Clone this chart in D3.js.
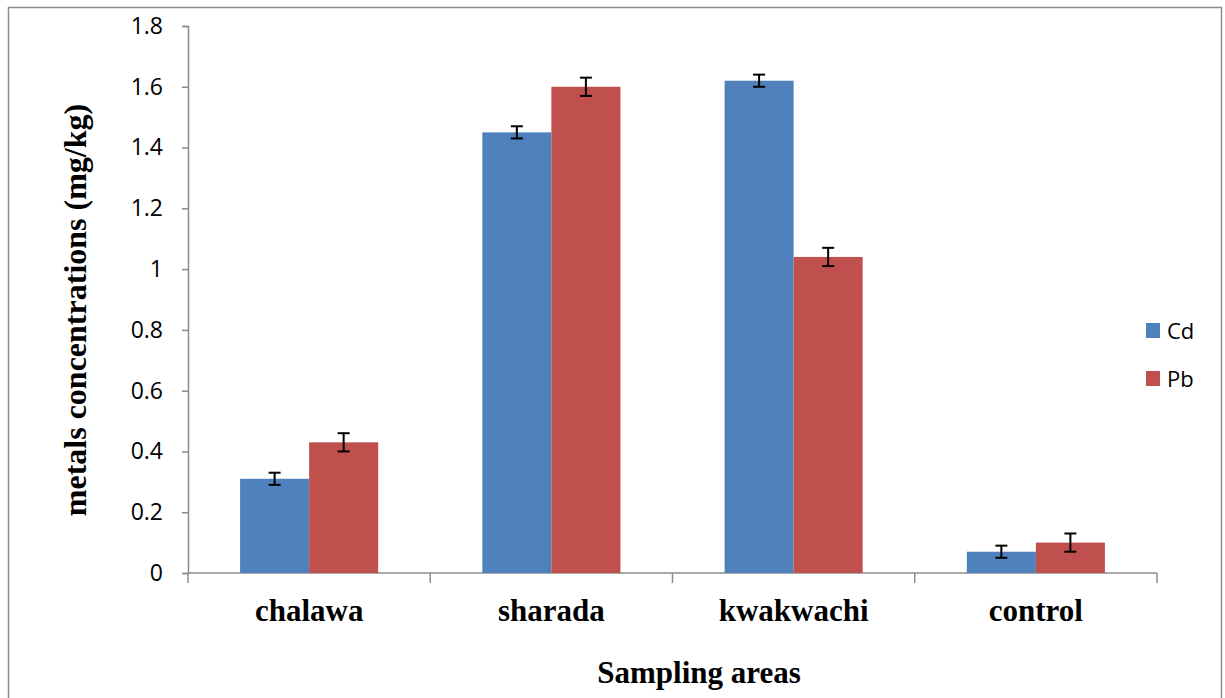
<!DOCTYPE html>
<html>
<head>
<meta charset="utf-8">
<script src="https://cdn.jsdelivr.net/npm/d3@7"></script>
<style>
  body { margin:0; background:#fff; }
  svg { display:block; }
</style>
</head>
<body>
<div id="chart"><svg></svg></div>
<script>
(function(){
    const categories = ['chalawa','sharada','kwakwachi','control'];
    const series = ['Cd','Pb'];
    const cdValues = [0.31, 1.45, 1.62, 0.07];
    const pbValues = [0.43, 1.60, 1.04, 0.10];
    const cdErrors = [0.02, 0.02, 0.02, 0.02];
    const pbErrors = [0.03, 0.03, 0.03, 0.03];
    const yTicks = [0, 0.2, 0.4, 0.6, 0.8, 1, 1.2, 1.4, 1.6, 1.8];
    const colors = {Cd:'#4F81BD', Pb:'#C0504D'};

    const W = 1225, H = 698;
    const margin = {top:26, right:68, bottom:125, left:188};
    const width = W - margin.left - margin.right;
    const height = H - margin.top - margin.bottom;

    const svg = d3.select('#chart svg').attr('width', W).attr('height', H);

    // outer frame
    svg.append('rect').attr('x',8.5).attr('y',7.5).attr('width',1213).attr('height',700)
        .attr('fill','none').attr('stroke','#8c8c8c').attr('stroke-width',1.5);

    const g = svg.append('g').attr('transform',`translate(${margin.left},${margin.top})`);

    const data = categories.map((c,i)=>({
        cat:c,
        vals:[{s:'Cd', v:cdValues[i], e:cdErrors[i]}, {s:'Pb', v:pbValues[i], e:pbErrors[i]}]
    }));

    const x0 = d3.scaleBand().domain(categories).range([0,width]).paddingInner(0.43).paddingOuter(0.215);
    const x1 = d3.scaleBand().domain(series).range([0,x0.bandwidth()]);
    const xTick = d3.scaleBand().domain(categories).range([0,width]);
    const y = d3.scaleLinear().domain([0,1.8]).range([height,0]);

    // axes
    const yAxis = g.append('g')
        .call(d3.axisLeft(y).tickValues(yTicks).tickSize(6).tickPadding(19).tickFormat(d=>d3.format('')(+d.toFixed(1))));
    yAxis.select('.domain').attr('stroke','#8c8c8c').attr('stroke-width',1.5);
    yAxis.selectAll('.tick line').attr('stroke','#8c8c8c').attr('stroke-width',1.5);
    yAxis.selectAll('.tick text').style('font-family','"Open Sans", "Liberation Sans", sans-serif')
        .style('font-size','23px').attr('fill','#000');

    const xg = g.append('g').attr('transform',`translate(0,${height})`);
    xg.append('line').attr('x1',0).attr('x2',width).attr('y1',0).attr('y2',0)
        .attr('stroke','#8c8c8c').attr('stroke-width',1.5);
    xg.selectAll('line.tk').data(d3.range(categories.length+1)).join('line').attr('class','tk')
        .attr('x1',i=>i*xTick.step()).attr('x2',i=>i*xTick.step())
        .attr('y1',0).attr('y2',10).attr('stroke','#8c8c8c').attr('stroke-width',1.5);
    xg.selectAll('text').data(categories).join('text')
        .attr('x',d=>xTick(d)+xTick.bandwidth()/2).attr('y',48)
        .attr('text-anchor','middle')
        .style('font-family','"Liberation Serif", "Times New Roman", serif')
        .style('font-size','31px').style('font-weight','bold')
        .text(d=>d);

    // bars
    const groups = g.selectAll('g.grp').data(data).join('g').attr('class','grp')
        .attr('transform',d=>`translate(${x0(d.cat)},0)`);
    groups.selectAll('rect').data(d=>d.vals).join('rect')
        .attr('x',d=>x1(d.s)).attr('width',x1.bandwidth())
        .attr('y',d=>y(d.v)).attr('height',d=>height-y(d.v))
        .attr('fill',d=>colors[d.s]);

    // error bars
    const eb = groups.selectAll('g.err').data(d=>d.vals).join('g').attr('class','err')
        .attr('stroke','#000').attr('stroke-width',2);
    eb.append('line')
        .attr('x1',d=>x1(d.s)+x1.bandwidth()/2).attr('x2',d=>x1(d.s)+x1.bandwidth()/2)
        .attr('y1',d=>y(d.v+d.e)).attr('y2',d=>y(d.v-d.e));
    eb.append('line')
        .attr('x1',d=>x1(d.s)+x1.bandwidth()/2-6).attr('x2',d=>x1(d.s)+x1.bandwidth()/2+6)
        .attr('y1',d=>y(d.v+d.e)).attr('y2',d=>y(d.v+d.e));
    eb.append('line')
        .attr('x1',d=>x1(d.s)+x1.bandwidth()/2-6).attr('x2',d=>x1(d.s)+x1.bandwidth()/2+6)
        .attr('y1',d=>y(d.v-d.e)).attr('y2',d=>y(d.v-d.e));

    // axis titles
    svg.append('text')
        .attr('x',699).attr('y',683)
        .attr('text-anchor','middle')
        .style('font-family','"Liberation Serif", "Times New Roman", serif')
        .style('font-size','31px').style('font-weight','bold')
        .text('Sampling areas');

    svg.append('text')
        .attr('transform','translate(86,310) rotate(-90)')
        .attr('text-anchor','middle')
        .style('font-family','"Liberation Serif", "Times New Roman", serif')
        .style('font-size','32px').style('font-weight','bold')
        .text('metals concentrations (mg/kg)');

    // legend
    const legend = svg.append('g').attr('transform','translate(1146,323)');
    legend.selectAll('g').data(series).join('g')
        .attr('transform',(d,i)=>`translate(0,${i*48})`)
        .each(function(d){
            const lg = d3.select(this);
            lg.append('rect').attr('width',14).attr('height',15).attr('fill',colors[d]);
            lg.append('text').attr('x',21).attr('y',16)
                .style('font-family','"Open Sans", "Liberation Sans", sans-serif')
                .style('font-size','22px').text(d);
        });
})();
</script>
</body>
</html>
